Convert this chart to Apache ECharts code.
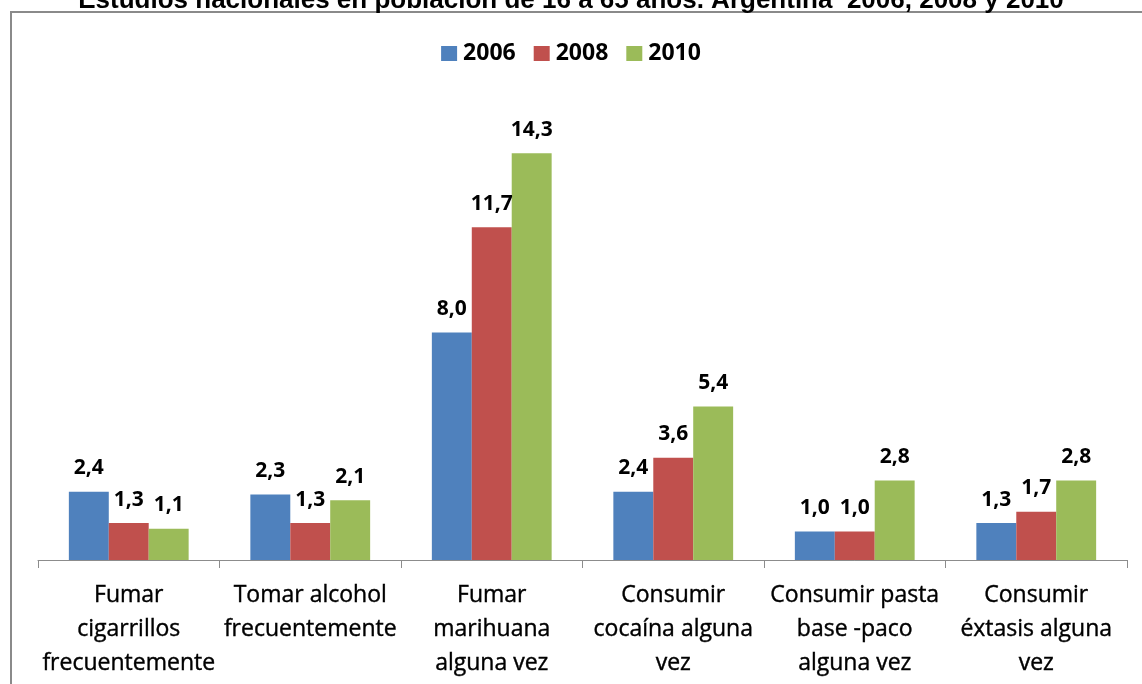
<!DOCTYPE html>
<html>
<head>
<meta charset="utf-8">
<script src="https://cdn.jsdelivr.net/npm/echarts@6/dist/echarts.min.js"></script>
<style>
html, body { margin: 0; padding: 0; background: #fff; }
#main { width: 1142px; height: 684px; }
</style>
</head>
<body>
<div id="main"></div>
<script>
var categories = [
    'Fumar\ncigarrillos\nfrecuentemente',
    'Tomar alcohol\nfrecuentemente',
    'Fumar\nmarihuana\nalguna vez',
    'Consumir\ncocaína alguna\nvez',
    'Consumir pasta\nbase -paco\nalguna vez',
    'Consumir\néxtasis alguna\nvez'
];
var years = ['2006', '2008', '2010'];
var data2006 = [2.4, 2.3, 8.0, 2.4, 1.0, 1.3];
var data2008 = [1.3, 1.3, 11.7, 3.6, 1.0, 1.7];
var data2010 = [1.1, 2.1, 14.3, 5.4, 2.8, 2.8];
var colors = ['#4F81BD', '#C0504D', '#9BBB59'];

var myChart = echarts.init(document.getElementById('main'));

var labelStyle = {
    show: true,
    position: 'top',
    distance: 13,
    color: '#000',
    fontFamily: 'Open Sans',
    fontWeight: 'bold',
    fontSize: 21,
    formatter: function (p) {
        return p.value.toFixed(1).replace('.', ',');
    }
};

function makeSeries(name, data) {
    return {
        name: name,
        type: 'bar',
        data: data,
        barGap: '0%',
        barCategoryGap: '34%',
        label: labelStyle
    };
}

option = {
    backgroundColor: '#fff',
    color: colors,
    animation: false,
    title: {
        text: 'Estudios nacionales en población de 16 a 65 años. Argentina  2006, 2008 y 2010',
        left: 'center',
        top: -17,
        textStyle: {
            fontFamily: 'Liberation Sans',
            fontWeight: 'bold',
            fontSize: 26,
            color: '#000'
        }
    },
    graphic: [{
        type: 'rect',
        shape: { x: 11, y: 12, width: 1160, height: 700 },
        style: { fill: 'none', stroke: '#8a8a8a', lineWidth: 2 },
        silent: true
    }],
    legend: {
        data: years,
        top: 37,
        left: 'center',
        itemWidth: 16,
        itemHeight: 15,
        itemGap: 18,
        icon: 'rect',
        textStyle: {
            fontFamily: 'Open Sans',
            fontWeight: 'bold',
            fontSize: 23,
            color: '#000',
            padding: [0, 0, 0, 1]
        }
    },
    grid: {
        left: 38,
        right: 15,
        top: 105,
        bottom: 124
    },
    xAxis: {
        type: 'category',
        data: categories,
        axisLine: { lineStyle: { color: '#8c8c8c', width: 1 } },
        axisTick: { show: true, length: 8, lineStyle: { color: '#8c8c8c' } },
        axisLabel: {
            interval: 0,
            margin: 18,
            color: '#000',
            fontFamily: 'Open Sans',
            fontSize: 23,
            lineHeight: 34,
            textBorderColor: '#000',
            textBorderWidth: 0.4
        }
    },
    yAxis: {
        type: 'value',
        min: 0,
        max: 16,
        show: false,
        splitLine: { show: false }
    },
    series: [
        makeSeries(years[0], data2006),
        makeSeries(years[1], data2008),
        makeSeries(years[2], data2010)
    ]
};

myChart.setOption(option);
</script>
</body>
</html>
